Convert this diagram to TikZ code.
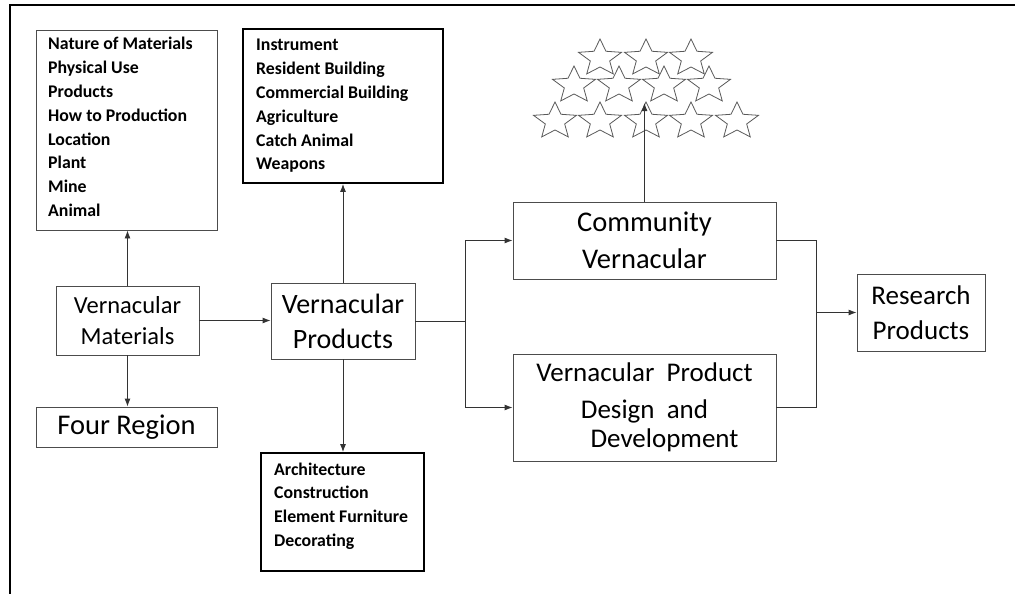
\documentclass[tikz,border=0pt]{standalone}
\usepackage{fontspec}
\setmainfont{Carlito}
\usetikzlibrary{arrows.meta,calc}
\begin{document}
\begin{tikzpicture}[x=1pt,y=-1pt,
  thinbox/.style={draw=black!70, line width=0.9pt, inner sep=0pt, align=center},
  thickbox/.style={draw=black, line width=1.8pt, inner sep=0pt},
  listtext/.style={anchor=base west, inner sep=0pt, font=\fontsize{17.8}{23.8}\selectfont\bfseries},
  conn/.style={draw=black!80, line width=0.9pt},
  arr/.style={conn, -{Latex[length=8pt,width=6pt]}},
  starln/.style={draw=black!65, line width=0.8pt},
  frameln/.style={line width=2.2pt}]
\useasboundingbox (0,0) rectangle (1015,594);
\draw[frameln] (1015,5) -- (10,5) -- (10,594);

% list boxes
\node[thinbox, minimum width=181, minimum height=200] (b1) at (126.5,130) {};
\node[listtext] (t1) at (48,50) {\begin{tabular}[t]{@{}l@{}}Nature of Materials\\Physical Use\\Products\\How to Production\\Location\\Plant\\Mine\\Animal\end{tabular}};
\node[thickbox, minimum width=200, minimum height=154] (b2) at (343,106) {};
\node[listtext] (t2) at (256,51) {\begin{tabular}[t]{@{}l@{}}Instrument\\Resident Building\\Commercial Building\\Agriculture\\Catch Animal\\Weapons\end{tabular}};
\node[thickbox, minimum width=163, minimum height=118] (arch) at (342.5,512) {};
\node[listtext] (t3) at (274,475) {\begin{tabular}[t]{@{}l@{}}Architecture\\Construction\\Element Furniture\\Decorating\end{tabular}};

% main boxes
\node[thinbox, minimum width=143, minimum height=69, font=\fontsize{24.5}{31}\selectfont] (vm) at (127.5,320.5) {Vernacular\\Materials};
\node[thinbox, minimum width=181, minimum height=40, font=\fontsize{28.5}{34}\selectfont] (fr) at (126.5,427) {Four Region};
\node[thinbox, minimum width=144, minimum height=76, font=\fontsize{28}{35}\selectfont] (vp) at (343,321) {Vernacular\\Products};
\node[thinbox, minimum width=263, minimum height=77, font=\fontsize{28.5}{38}\selectfont] (cv) at (644.5,240.5) {Community\\[-1pt]Vernacular};
\node[thinbox, minimum width=263, minimum height=107, font=\fontsize{27}{37}\selectfont] (vpdd) at (644.5,407.5) {Vernacular\ \ Product\\Design\ \ and\\[-8pt]\hspace*{40pt}Development};
\node[thinbox, minimum width=128, minimum height=77, font=\fontsize{27}{35}\selectfont] (rp) at (921,312.5) {Research\\Products};

% stars
\foreach \sx/\sy in {600/58.3,646/58.3,691/58.3,
                     574/85.3,619/85.3,664/85.3,709/85.3,
                     555/121.3,600/121.3,646/121.3,691/121.3,737/121.3}{
  \draw[starln] plot[samples at={0,...,9}, variable=\k]
    ({(mod(\k,2)==0?1:0.45)*22.6*cos(90+36*\k)+\sx},
     {-(mod(\k,2)==0?1:0.45)*19.3*sin(90+36*\k)+\sy}) -- cycle;
}
\coordinate (st) at (644.5,103);

% connectors
\draw[arr] (vm.north) -- (vm.north |- b1.south);
\draw[arr] (vm.south) -- (vm.south |- fr.north);
\draw[arr] (vm.east) -- (vm.east -| vp.west);
\draw[arr] (vp.north) -- (b2.south);
\draw[arr] (vp.south) -- (vp.south |- arch.north);
\coordinate (j1) at (465,321);
\draw[conn] (vp.east) -- (j1);
\draw[arr] (j1) |- (cv.west);
\draw[arr] (j1) |- (vpdd.west);
\coordinate (j2) at (816,312.5);
\draw[conn] (cv.east) -| (j2);
\draw[conn] (vpdd.east) -| (j2);
\draw[arr] (j2) -- (j2 -| rp.west);
\draw[arr] (cv.north) -- (st);
\end{tikzpicture}
\end{document}
